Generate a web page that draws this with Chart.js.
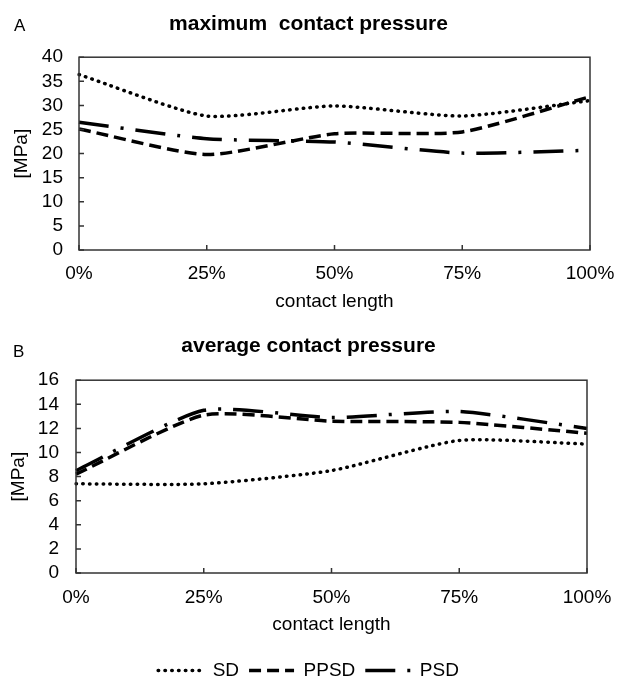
<!DOCTYPE html>
<html>
<head>
<meta charset="utf-8">
<title>contact pressure</title>
<script src="https://cdn.jsdelivr.net/npm/chart.js@4.4.1/dist/chart.umd.min.js"></script>
<style>
  html, body { margin: 0; padding: 0; background: #fff; overflow: hidden; }
  .panel { position: relative; width: 617px; }
</style>
</head>
<body>
<div class="panel" style="height:320px"><canvas id="chartA"></canvas></div>
<div class="panel" style="height:370px"><canvas id="chartB"></canvas></div>
<script>
// x categories (shared)
const lengthLabels = ['0%', '25%', '50%', '75%', '100%'];
const seriesNames = ['SD', 'PPSD', 'PSD'];

// A - maximum contact pressure [MPa]
const maxSD = [36.4, 27.8, 29.9, 27.8, 31.0];
const maxPPSD = [25.1, 19.8, 24.1, 24.5, 31.8];
const maxPSD = [26.5, 23.1, 22.4, 20.1, 20.7];
const maxAxis = { min: 0, max: 40, step: 5 };

// B - average contact pressure [MPa]
const avgSD = [7.4, 7.4, 8.5, 11.0, 10.7];
const avgPPSD = [8.2, 13.1, 12.6, 12.5, 11.6];
const avgPSD = [8.5, 13.5, 12.9, 13.4, 12.0];
const avgAxis = { min: 0, max: 16, step: 2 };

const FONT = '"Liberation Sans", Arial, sans-serif';

// line looks for each series (dotted, dashed, dash-dot)
const looks = [
    { borderWidth: 3.5, borderDash: [0.5, 6.3], borderCapStyle: 'round' },
    { borderWidth: 3.5, borderDash: [12, 6], borderCapStyle: 'butt' },
    { borderWidth: 3.5, borderDash: [30, 12, 3, 12], borderCapStyle: 'butt' }
];

// plot frame + inside tick marks + panel letter + dashed legend lines
const frameTicks = {
    id: 'frameTicks',
    afterDraw(chart, args, opts) {
        const ctx = chart.ctx;
        const a = chart.chartArea;
        const x = chart.scales.x;
        const y = chart.scales.y;
        ctx.save();
        ctx.strokeStyle = '#333';
        ctx.lineWidth = 1.5;
        ctx.setLineDash([]);
        ctx.strokeRect(a.left, a.top, a.right - a.left, a.bottom - a.top);
        ctx.beginPath();
        y.ticks.forEach((t, i) => {
            const py = y.getPixelForTick(i);
            ctx.moveTo(a.left, py);
            ctx.lineTo(a.left + 5, py);
        });
        x.ticks.forEach((t, i) => {
            const px = x.getPixelForTick(i);
            ctx.moveTo(px, a.bottom);
            ctx.lineTo(px, a.bottom - 5);
        });
        ctx.stroke();

        ctx.fillStyle = '#000';
        ctx.font = '17px ' + FONT;
        ctx.textBaseline = 'middle';
        ctx.textAlign = 'left';
        ctx.fillText(opts.letter, opts.lx, opts.ly);

        // the legend's own marker is hidden, draw the dashed sample instead
        const lg = chart.legend;
        if (lg && lg.options.display) {
            const w = lg.options.labels.pointStyleWidth;
            lg.legendHitBoxes.forEach((hb, i) => {
                const ds = chart.data.datasets[i];
                const yy = hb.top + hb.height / 2;
                ctx.beginPath();
                ctx.strokeStyle = ds.borderColor;
                ctx.lineWidth = ds.borderWidth;
                ctx.lineCap = ds.borderCapStyle;
                ctx.setLineDash(ds.borderDash);
                ctx.moveTo(hb.left, yy);
                ctx.lineTo(hb.left + w, yy);
                ctx.stroke();
            });
        }
        ctx.restore();
    }
};

function buildChart(id, title, values, axis, lay) {
    const datasets = values.map((v, i) => Object.assign({
        label: seriesNames[i],
        data: v,
        borderColor: '#000',
        backgroundColor: '#000',
        pointRadius: 0,
        tension: 0.2,
        fill: false
    }, looks[i]));

    return new Chart(document.getElementById(id), {
        type: 'line',
        data: { labels: lengthLabels, datasets: datasets },
        plugins: [frameTicks],
        options: {
            responsive: true,
            maintainAspectRatio: false,
            animation: false,
            layout: { padding: 0 },
            plugins: {
                title: {
                    display: true,
                    text: title,
                    color: '#000',
                    font: { family: FONT, size: 21, weight: 'bold' },
                    padding: { top: lay.titleTop, bottom: lay.titleBottom }
                },
                legend: {
                    display: lay.legend,
                    position: 'bottom',
                    labels: {
                        color: '#000',
                        font: { family: FONT, size: 19 },
                        usePointStyle: true,
                        pointStyle: 'line',
                        pointStyleWidth: 45,
                        padding: 10,
                        generateLabels: c => Chart.defaults.plugins.legend.labels.generateLabels(c)
                            .map(it => Object.assign(it, { strokeStyle: 'rgba(0,0,0,0)', fillStyle: 'rgba(0,0,0,0)' }))
                    }
                },
                tooltip: { enabled: false },
                frameTicks: { letter: lay.letter, lx: lay.lx, ly: lay.ly }
            },
            scales: {
                x: {
                    grid: { display: false, drawTicks: false },
                    border: { display: false },
                    ticks: { color: '#000', font: { family: FONT, size: 19 }, padding: lay.xTickPad, maxRotation: 0, autoSkip: false },
                    title: {
                        display: true, text: 'contact length', color: '#000',
                        font: { family: FONT, size: 19 }, padding: { top: 0, bottom: lay.xTitlePad }
                    },
                    afterFit: s => { s.height = lay.xHeight; s.paddingLeft = 0; s.paddingRight = 0; }
                },
                y: {
                    min: axis.min,
                    max: axis.max,
                    grid: { display: false, drawTicks: false },
                    border: { display: false },
                    ticks: { stepSize: axis.step, color: '#000', font: { family: FONT, size: 19 }, padding: lay.yTickPad, autoSkip: false },
                    title: {
                        display: true, text: '[MPa]', color: '#000',
                        font: { family: FONT, size: 19 }, padding: { top: lay.yTitlePad, bottom: 0 }
                    },
                    afterFit: s => { s.width = lay.yWidth; }
                },
                // empty right-hand axis, only keeps the margin right of the plot
                yRight: {
                    position: 'right',
                    min: axis.min,
                    max: axis.max,
                    grid: { display: false, drawTicks: false },
                    border: { display: false },
                    ticks: { display: false },
                    afterFit: s => { s.width = lay.right; s.paddingTop = 0; s.paddingBottom = 0; }
                }
            }
        }
    });
}

buildChart('chartA', 'maximum  contact pressure', [maxSD, maxPPSD, maxPSD], maxAxis, {
    right: 27, titleTop: 12, titleBottom: 20, legend: false,
    xTickPad: 12, xTitlePad: 7, xHeight: 70,
    yTickPad: 16, yTitlePad: 10, yWidth: 79,
    letter: 'A', lx: 14, ly: 26
});

buildChart('chartB', 'average contact pressure', [avgSD, avgPPSD, avgPSD], avgAxis, {
    right: 30, titleTop: 14, titleBottom: 21, legend: true,
    xTickPad: 13, xTitlePad: 15, xHeight: 78,
    yTickPad: 17, yTitlePad: 7, yWidth: 76,
    letter: 'B', lx: 13, ly: 32
});
</script>
</body>
</html>
